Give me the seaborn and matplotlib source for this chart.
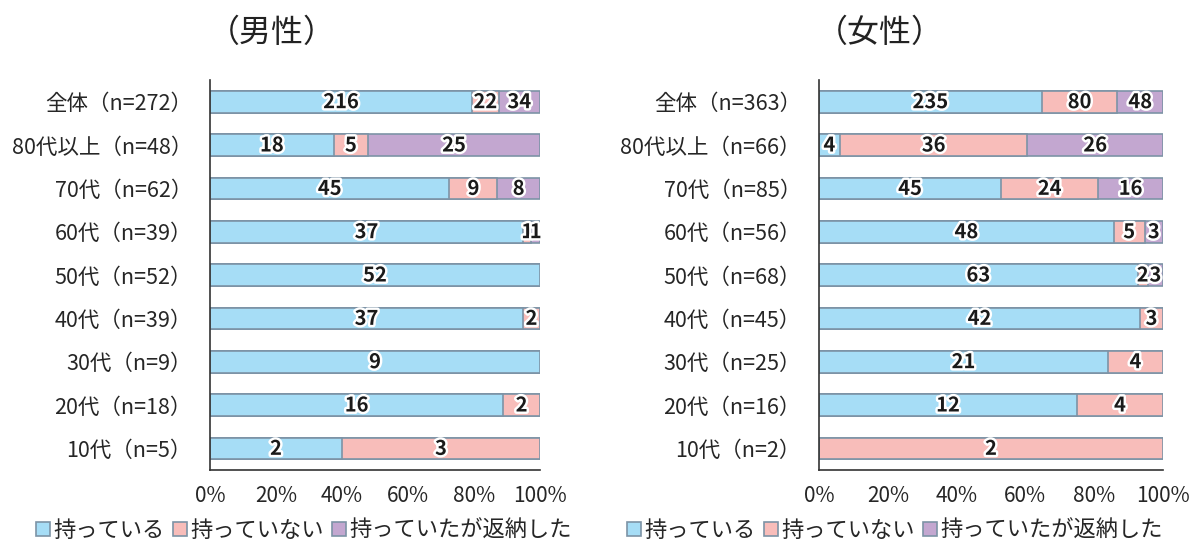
import numpy as np
import pandas as pd
import seaborn as sns
import matplotlib.pyplot as plt
import matplotlib.patheffects as pe
from matplotlib.patches import Patch

sns.set_style("white")
plt.rcParams['font.family'] = ['Noto Sans CJK JP', 'DejaVu Sans']

# data
cats_m = ['全体（n=272）', '80代以上（n=48）', '70代（n=62）', '60代（n=39）', '50代（n=52）',
          '40代（n=39）', '30代（n=9）', '20代（n=18）', '10代（n=5）']
have_m = [216, 18, 45, 37, 52, 37, 9, 16, 2]
nothave_m = [22, 5, 9, 1, 0, 2, 0, 2, 3]
returned_m = [34, 25, 8, 1, 0, 0, 0, 0, 0]

cats_f = ['全体（n=363）', '80代以上（n=66）', '70代（n=85）', '60代（n=56）', '50代（n=68）',
          '40代（n=45）', '30代（n=25）', '20代（n=16）', '10代（n=2）']
have_f = [235, 4, 45, 48, 63, 42, 21, 12, 0]
nothave_f = [80, 36, 24, 5, 2, 3, 4, 4, 2]
returned_f = [48, 26, 16, 3, 3, 0, 0, 0, 0]

series = ['持っている', '持っていない', '持っていたが返納した']
colors = ['#A6DDF6', '#F8BDBA', '#C3A7D0']
edge = '#7D93A6'

fig = plt.figure(figsize=(11.89, 5.45), dpi=100)
ax_m = fig.add_axes([0.1766, 0.1376, 0.2775, 0.7156])
ax_f = fig.add_axes([0.6888, 0.1376, 0.2893, 0.7156])


def draw(ax, cats, have, nothave, returned, title, title_x):
    df = pd.DataFrame({'cat': cats, 'a': have, 'b': nothave, 'c': returned})
    total = df[['a', 'b', 'c']].sum(axis=1)
    pct = df[['a', 'b', 'c']].div(total, axis=0) * 100
    cum = pct.cumsum(axis=1)
    df['cum_a'] = cum['a']
    df['cum_b'] = cum['b']
    df['cum_c'] = cum['c']
    # draw from the longest stack down so the front segments overlay
    for col, c in zip(['cum_c', 'cum_b', 'cum_a'], colors[::-1]):
        sns.barplot(data=df, y='cat', x=col, order=cats, orient='h', color=c,
                    width=0.5, edgecolor=edge, linewidth=1.2, saturation=1, ax=ax)
    # value labels
    starts = cum.shift(1, axis=1).fillna(0)
    for i in range(len(cats)):
        for k in ['a', 'b', 'c']:
            v = df.loc[i, k]
            if v > 0:
                xc = starts.loc[i, k] + pct.loc[i, k] / 2
                ax.text(xc, i, str(v), ha='center', va='center', fontsize=14.5,
                        fontweight='bold', color='#1a1a1a',
                        path_effects=[pe.withStroke(linewidth=3.5, foreground='white')])
    ax.set_xlim(0, 100)
    ax.set_ylim(len(cats) - 0.5, -0.5)
    ax.set_xticks(range(0, 101, 20))
    ax.set_xticklabels([f'{t}%' for t in range(0, 101, 20)], fontsize=15)
    ax.set_yticks(range(len(cats)))
    ax.set_yticklabels(cats, fontsize=15.5)
    ax.set_yticks(np.arange(-0.5, len(cats), 1), minor=True)
    ax.tick_params(axis='y', which='major', length=0, pad=13)
    ax.tick_params(axis='y', which='minor', length=6, width=1.2, color='#333333', direction='out')
    ax.tick_params(axis='x', length=6, width=1.2, color='#333333', direction='out', pad=5)
    ax.set_xlabel('')
    ax.set_ylabel('')
    sns.despine(ax=ax, top=True, right=True)
    for s in ['left', 'bottom']:
        ax.spines[s].set_color('#333333')
        ax.spines[s].set_linewidth(1.2)
    fig.text(title_x, 0.94, title, fontsize=23, ha='center', va='center', color='#222222')
    handles = [Patch(facecolor=c, edgecolor=edge, linewidth=1.2) for c in colors]
    return handles


h = draw(ax_m, cats_m, have_m, nothave_m, returned_m, '（男性）', 272 / 1189)
draw(ax_f, cats_f, have_f, nothave_f, returned_f, '（女性）', 880 / 1189)

for xc in [304 / 1189, 895 / 1189]:
    fig.legend(h, series, loc='center', bbox_to_anchor=(xc, 0.027), ncol=3, frameon=False,
               fontsize=16, handlelength=0.6, handleheight=0.6, handletextpad=0.15,
               columnspacing=0.4, borderaxespad=0)

fig.savefig('out.png', dpi=100)
